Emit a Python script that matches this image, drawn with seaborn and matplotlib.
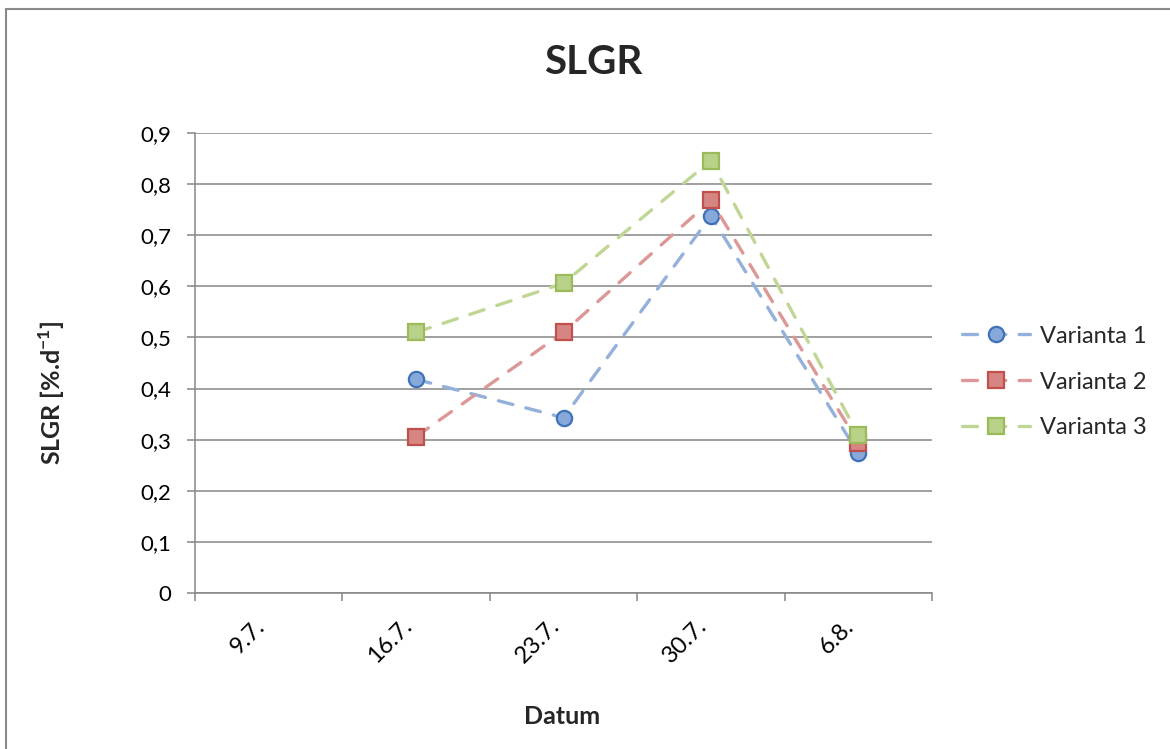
import numpy as np
import pandas as pd
import matplotlib
matplotlib.use("Agg")
import matplotlib.pyplot as plt
from matplotlib.patches import Rectangle
from matplotlib.transforms import ScaledTranslation
import seaborn as sns

# Sampling dates and SLGR values for each variant (no value on the first date)
dates = ["9.7.", "16.7.", "23.7.", "30.7.", "6.8."]
varianta_1 = [np.nan, 0.418, 0.343, 0.738, 0.273]
varianta_2 = [np.nan, 0.306, 0.510, 0.768, 0.294]
varianta_3 = [np.nan, 0.510, 0.606, 0.846, 0.309]
series_names = ["Varianta 1", "Varianta 2", "Varianta 3"]
y_ticks = [0.0, 0.1, 0.2, 0.3, 0.4, 0.5, 0.6, 0.7, 0.8, 0.9]

sns.set_theme(style="white")
plt.rcParams["font.family"] = ["Lato", "DejaVu Sans"]
plt.rcParams["mathtext.fontset"] = "custom"
plt.rcParams["mathtext.rm"] = "Lato"
plt.rcParams["mathtext.bf"] = "Lato:bold"

W, H = 1170, 749
fig = plt.figure(figsize=(W / 100, H / 100), dpi=100)
ax = fig.add_axes([195 / W, 1 - 593 / H, (932 - 195) / W, (593 - 133) / H])

# chart frame (left and top edges visible)
frame = Rectangle((6 / W, -0.2), 1.5, (1 - 9 / H) + 0.2, transform=fig.transFigure,
                  fill=False, edgecolor="#8a8a8a", linewidth=1.5)
fig.patches.append(frame)

pos = np.arange(len(dates))
df = pd.DataFrame({
    "pos": np.tile(pos, 3),
    "value": np.concatenate([varianta_1, varianta_2, varianta_3]),
    "series": np.repeat(series_names, len(dates)),
})

styles = {
    "Varianta 1": dict(marker="o", line="#93b1da", face="#86a9da", edge="#3f72b9"),
    "Varianta 2": dict(marker="s", line="#dc9896", face="#d68583", edge="#c0504d"),
    "Varianta 3": dict(marker="s", line="#c0d695", face="#b8d28a", edge="#9bbb59"),
}

for name in series_names:
    st = styles[name]
    sns.lineplot(data=df[df["series"] == name], x="pos", y="value", ax=ax,
                 color=st["line"], marker=st["marker"], markersize=11,
                 markerfacecolor=st["face"], markeredgecolor=st["edge"],
                 markeredgewidth=1.6, linewidth=2.4, linestyle=(0, (4.5, 4)),
                 dash_capstyle="round", label=name, errorbar=None)

grid_c = "#868686"
ax.set_xlim(-0.5, len(dates) - 0.5)
ax.set_ylim(0, 0.9)
ax.set_yticks(y_ticks)
ax.set_yticklabels(["0" if v == 0 else f"{v:.1f}".replace(".", ",") for v in y_ticks])
ax.yaxis.grid(True, color=grid_c, linewidth=1.1)
ax.xaxis.grid(False)
ax.set_axisbelow(True)

ax.set_xticks(pos)
ax.set_xticklabels(dates, rotation=45, ha="right")
ax.set_xticks(np.arange(-0.5, len(dates), 1.0), minor=True)
for lab in ax.get_xticklabels():
    lab.set_transform(lab.get_transform() + ScaledTranslation(7 / 100, 0, fig.dpi_scale_trans))

ax.tick_params(axis="x", which="major", bottom=True, length=0, pad=16, labelsize=17, labelcolor="black")
ax.tick_params(axis="x", which="minor", bottom=True, length=6, width=1.1, color=grid_c, direction="out")
ax.tick_params(axis="y", which="major", left=True, length=6, width=1.1, color=grid_c,
               direction="out", pad=11, labelsize=16, labelcolor="black")

for side in ["top", "right"]:
    ax.spines[side].set_visible(False)
for side in ["left", "bottom"]:
    ax.spines[side].set_color(grid_c)
    ax.spines[side].set_linewidth(1.1)

ax.set_xlabel("")
ax.set_ylabel("")

fig.text(593 / W, 1 - 62 / H, "SLGR", ha="center", va="center", fontsize=29, fontweight="bold")
fig.text(562 / W, 1 - 717 / H, "Datum", ha="center", va="center", fontsize=18, fontweight="bold")
fig.text(52 / W, 1 - 393 / H, r"SLGR [%.d$^{\mathbf{-1}}$]", ha="center", va="center",
         rotation=90, fontsize=18, fontweight="bold")

ax.legend(loc="center left", bbox_to_anchor=(962 / W, 1 - 382 / H), bbox_transform=fig.transFigure,
          frameon=False, fontsize=17, borderpad=0, borderaxespad=0, handlelength=2.9,
          handletextpad=0.4, labelspacing=1.05, numpoints=1)

fig.savefig("out.png", dpi=100)
